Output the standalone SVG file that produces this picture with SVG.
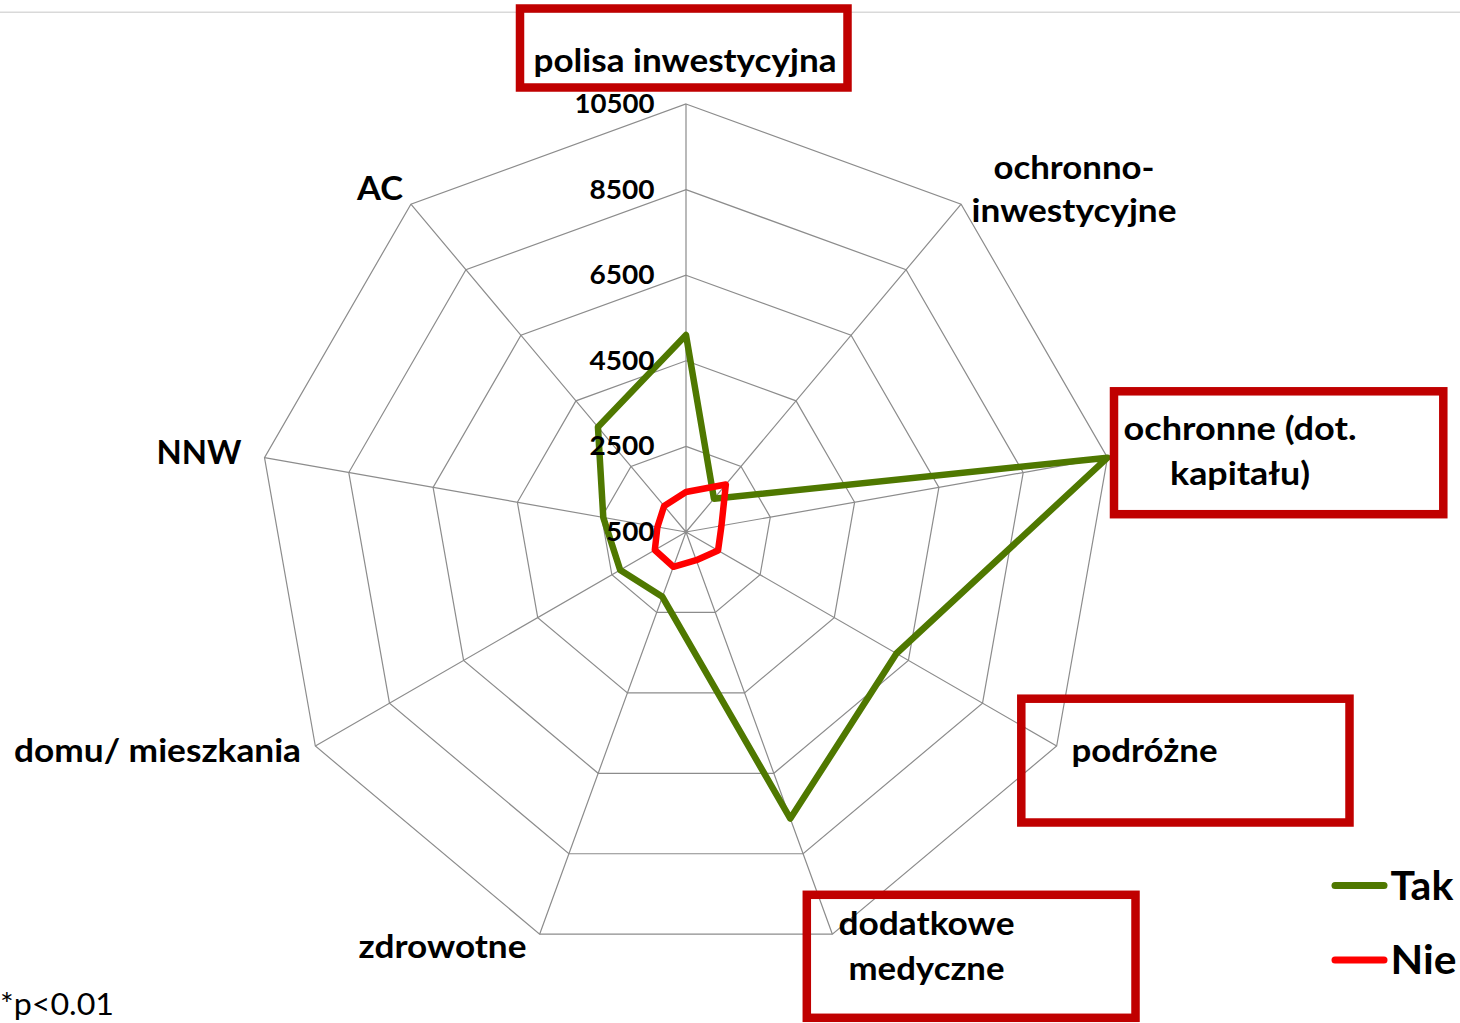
<svg xmlns="http://www.w3.org/2000/svg" width="1460" height="1023" viewBox="0 0 1460 1023">
<style>
.grid{fill:none;stroke:#8c8c8c;stroke-width:1.2}
.lbl{font-family:Lato,"Open Sans","Liberation Sans",sans-serif;font-weight:700;font-size:32px;fill:#000}
.num{font-family:Lato,"Open Sans","Liberation Sans",sans-serif;font-weight:700;font-size:27px;fill:#000;text-anchor:end}
.box{fill:none;stroke:#C00000;stroke-width:8.5}
.ser{fill:none;stroke-width:6.5;stroke-linejoin:round;stroke-linecap:round}
.leg{font-family:Lato,"Open Sans","Liberation Sans",sans-serif;font-weight:700;font-size:41px;fill:#000}
</style>
<rect width="1460" height="1023" fill="#fff"/>
<line x1="0" y1="12.3" x2="1460" y2="12.3" stroke="#d9d9d9" stroke-width="1.5"/>
<g id="grid">
<polygon class="grid" points="686,104 961.11,204.13 1107.5,457.68 1056.66,746 832.38,934.19 539.62,934.19 315.34,746 264.5,457.68 410.89,204.13"/>
<polygon class="grid" points="686,189.6 906.09,269.71 1023.2,472.54 982.53,703.2 803.11,853.75 568.89,853.75 389.47,703.2 348.8,472.54 465.91,269.71"/>
<polygon class="grid" points="686,275.2 851.07,335.28 938.9,487.41 908.4,660.4 773.83,773.31 598.17,773.31 463.6,660.4 433.1,487.41 520.93,335.28"/>
<polygon class="grid" points="686,360.8 796.05,400.85 854.6,502.27 834.26,617.6 744.55,692.88 627.45,692.88 537.74,617.6 517.4,502.27 575.95,400.85"/>
<polygon class="grid" points="686,446.4 741.02,466.43 770.3,517.14 760.13,574.8 715.28,612.44 656.72,612.44 611.87,574.8 601.7,517.14 630.98,466.43"/>
<path class="grid" d="M686,532L686,104M686,532L961.11,204.13M686,532L1107.5,457.68M686,532L1056.66,746M686,532L832.38,934.19M686,532L539.62,934.19M686,532L315.34,746M686,532L264.5,457.68M686,532L410.89,204.13"/>
</g>
<g id="series">
<polygon id="tak" class="ser" stroke="#4F7800" points="686,335 713.96,498.68 1107.5,457.68 896.44,653.5 790.32,818.61 662.4,596.84 620.18,570 603.28,517.41 597.94,427.05"/>
<polygon id="nie" class="ser" stroke="#FF0000" points="686,492 725.85,484.51 721.45,525.75 718.04,550.5 696.26,560.19 673.35,566.77 654.82,550 657.44,526.96 664.15,505.95"/>
</g>
<g id="scale">
<text class="num" x="654.5" y="113.3" textLength="80" lengthAdjust="spacingAndGlyphs">10500</text>
<text class="num" x="654.5" y="198.8" textLength="65" lengthAdjust="spacingAndGlyphs">8500</text>
<text class="num" x="654.5" y="284.3" textLength="65" lengthAdjust="spacingAndGlyphs">6500</text>
<text class="num" x="654.5" y="369.8" textLength="65" lengthAdjust="spacingAndGlyphs">4500</text>
<text class="num" x="654.5" y="455.3" textLength="65" lengthAdjust="spacingAndGlyphs">2500</text>
<text class="num" x="654.5" y="540.8" textLength="48.5" lengthAdjust="spacingAndGlyphs">500</text>
</g>
<g id="boxes">
<rect class="box" x="520" y="8.5" width="327.5" height="79"/>
<rect class="box" x="1114" y="391.3" width="329.3" height="122.9"/>
<rect class="box" x="1021.3" y="698.7" width="328.2" height="123.8"/>
<rect class="box" x="806.8" y="894.8" width="328.7" height="123"/>
</g>
<g id="labels">
<text id="l-polisa" class="lbl" x="533.5" y="72" textLength="303" lengthAdjust="spacingAndGlyphs">polisa inwestycyjna</text>
<g id="l-ochronno-inw">
<text class="lbl" x="993.5" y="178.5" textLength="161" lengthAdjust="spacingAndGlyphs">ochronno-</text>
<text class="lbl" x="971.5" y="222" textLength="205" lengthAdjust="spacingAndGlyphs">inwestycyjne</text>
</g>
<g id="l-ochronne">
<text class="lbl" x="1123.5" y="440" textLength="233" lengthAdjust="spacingAndGlyphs">ochronne (dot.</text>
<text class="lbl" x="1170" y="485" textLength="140" lengthAdjust="spacingAndGlyphs">kapitału)</text>
</g>
<text id="l-podrozne" class="lbl" x="1071.5" y="762" textLength="146" lengthAdjust="spacingAndGlyphs">podróżne</text>
<g id="l-dodatkowe">
<text class="lbl" x="838.5" y="935" textLength="176" lengthAdjust="spacingAndGlyphs">dodatkowe</text>
<text class="lbl" x="848.5" y="980" textLength="156" lengthAdjust="spacingAndGlyphs">medyczne</text>
</g>
<text id="l-zdrowotne" class="lbl" x="358.5" y="958" textLength="168" lengthAdjust="spacingAndGlyphs">zdrowotne</text>
<text id="l-domu" class="lbl" x="14" y="762" textLength="287" lengthAdjust="spacingAndGlyphs">domu/ mieszkania</text>
<text id="l-nnw" class="lbl" x="156.5" y="463.5" textLength="85" lengthAdjust="spacingAndGlyphs">NNW</text>
<text id="l-ac" class="lbl" x="357" y="200" textLength="46" lengthAdjust="spacingAndGlyphs">AC</text>
</g>
<g id="legend">
<line x1="1335" y1="885.5" x2="1384" y2="885.5" stroke="#4F7800" stroke-width="7" stroke-linecap="round"/>
<text class="leg" x="1390.5" y="899.5">Tak</text>
<line x1="1335" y1="960" x2="1384" y2="960" stroke="#FF0000" stroke-width="7" stroke-linecap="round"/>
<text class="leg" x="1390.5" y="973.5" textLength="66" lengthAdjust="spacingAndGlyphs">Nie</text>
</g>
<text id="note" x="0" y="1015" font-family="Lato,'Open Sans','Liberation Sans',sans-serif" font-size="30" fill="#000" textLength="114" lengthAdjust="spacingAndGlyphs">*p&lt;0.01</text>
</svg>
